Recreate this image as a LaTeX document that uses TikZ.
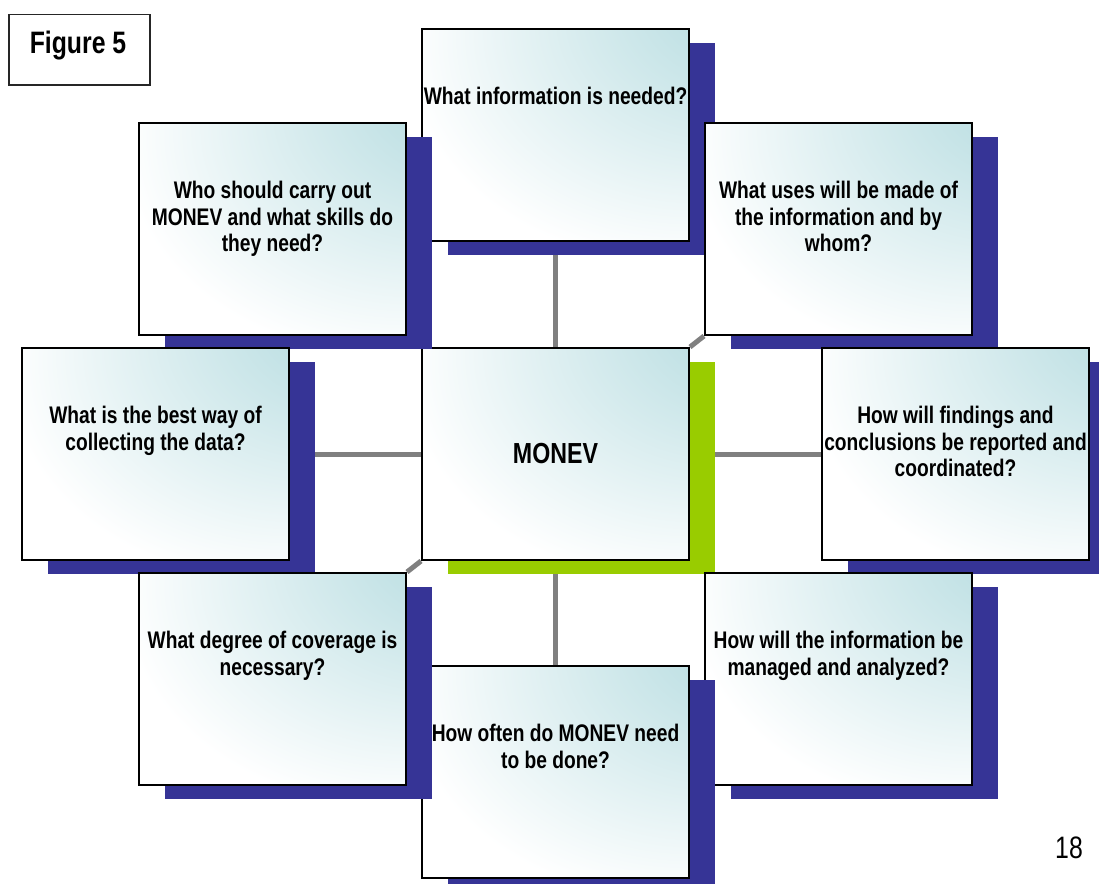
\documentclass[tikz,border=0pt]{standalone}
\usepackage{fontspec}
\setmainfont{Liberation Sans}[FakeStretch=0.8]
\usetikzlibrary{shadows,calc}
\definecolor{shblue}{RGB}{54,52,150}
\definecolor{shgreen}{RGB}{153,204,0}
\definecolor{tealA}{RGB}{184,221,225}
\definecolor{connc}{RGB}{128,128,128}
\pgfdeclareradialshading{boxshade}{\pgfpoint{44bp}{40bp}}{color(0bp)=(tealA); color(10bp)=(tealA); color(50bp)=(white); color(100bp)=(white)}
\pgfdeclarelayer{bg}
\pgfsetlayers{bg,main}
\tikzset{
  qbox/.style={draw=black, line width=2pt, shade, shading=boxshade,
    minimum width=267pt, minimum height=212pt, inner sep=0pt, anchor=north west,
    general shadow={fill=#1, shadow xshift=26pt, shadow yshift=-14pt}},
  qbox/.default=shblue,
  qtext/.style={font=\fontsize{24}{26.5}\selectfont\bfseries, align=center, inner sep=0pt, anchor=north},
  conn/.style={draw=connc, line width=5pt},
}
\begin{document}
\begin{tikzpicture}[x=1pt,y=-1pt]
\useasboundingbox (0,0) rectangle (1099,883);
\clip (0,0) rectangle (1099,883);
% boxes in stacking order
\node[qbox=shgreen] (c) at (421,347) {};
\node[font=\fontsize{29}{29}\selectfont\bfseries, inner sep=0pt] (cT) at (c.center) {MONEV};

\node[qbox] (top) at (421,28) {};
\node[qtext] (topT) at ([yshift=-59pt]top.north) {What information is needed?};

\node[qbox] (tr) at (704,122) {};
\node[qtext] (trT) at ([yshift=-59pt]tr.north) {What uses will be made of\\the information and by\\whom?};

\node[qbox] (tl) at (138,122) {};
\node[qtext] (tlT) at ([yshift=-59pt]tl.north) {Who should carry out\\MONEV and what skills do\\they need?};

\node[qbox] (rt) at (821,347) {};
\node[qtext] (rtT) at ([yshift=-59pt]rt.north) {How will findings and\\conclusions be reported and\\coordinated?};

\node[qbox] (lt) at (21,347) {};
\node[qtext] (ltT) at ([yshift=-59pt]lt.north) {What is the best way of\\collecting the data?};

\node[qbox] (br) at (704,572) {};
\node[qtext] (brT) at ([yshift=-59pt]br.north) {How will the information be\\managed and analyzed?};

\node[qbox] (bt) at (421,665) {};
\node[qtext] (btT) at ([yshift=-59pt]bt.north) {How often do MONEV need\\to be done?};

\node[qbox] (bl) at (138,572) {};
\node[qtext] (blT) at ([yshift=-59pt]bl.north) {What degree of coverage is\\necessary?};

% figure label and page number
\node[draw=black!85, line width=1.5pt, fill=white, minimum width=141pt, minimum height=70pt, inner sep=0pt, anchor=north west] (fig) at (8,14) {};
\node[font=\fontsize{31}{31}\selectfont\bfseries, inner sep=0pt, anchor=base] (figT) at (78,53) {Figure 5};
\node[font=\fontsize{31}{31}\selectfont, inner sep=0pt, anchor=base] (pg) at (1069,858) {18};

% connectors behind
\begin{pgfonlayer}{bg}
\draw[conn] (top.south) -- (c.north);
\draw[conn] (c.south) -- (bt.north);
\draw[conn] (lt.east) -- (c.west);
\draw[conn] (c.east) -- (rt.west);
\draw[conn] (c.north east) -- (tr.south west);
\draw[conn] (c.north west) -- (tl.south east);
\draw[conn] (c.south west) -- (bl.north east);
\draw[conn] (c.south east) -- (br.north west);
\end{pgfonlayer}
\end{tikzpicture}
\end{document}
